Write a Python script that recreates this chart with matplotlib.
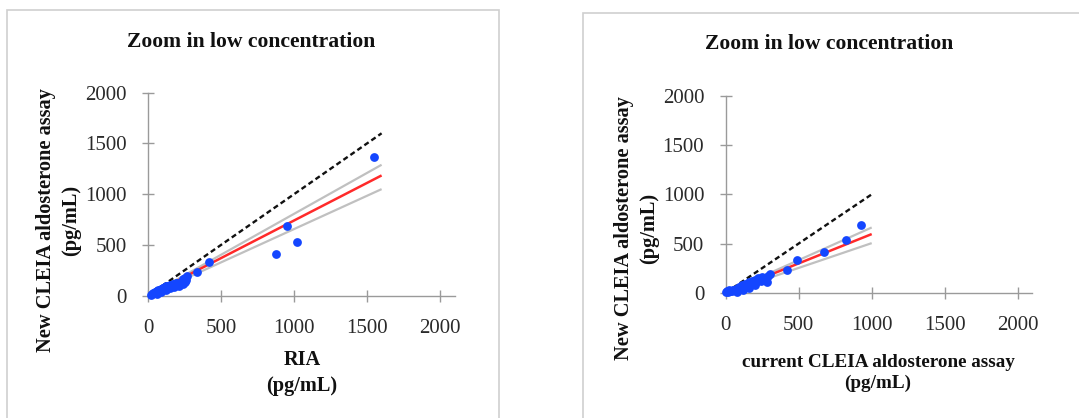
import matplotlib
matplotlib.use("Agg")
import matplotlib.pyplot as plt
from matplotlib.patches import Rectangle

plt.rcParams['font.family'] = ['Liberation Serif', 'DejaVu Serif']

# ---- data: left panel (RIA vs new CLEIA) ----
left_x = [1545, 950, 1020, 880, 420, 335,
          20, 30, 35, 45, 50, 55, 60, 65, 70, 75, 80, 85, 90, 95, 100, 105,
          110, 115, 120, 125, 130, 140, 150, 160, 170, 180, 190, 200, 215,
          230, 240, 250, 255, 265, 260, 60, 90, 120, 150, 180, 210, 240]
left_y = [1365, 690, 530, 410, 330, 230,
          10, 18, 25, 30, 38, 35, 45, 42, 55, 50, 60, 55, 70, 65, 75, 80,
          72, 90, 85, 95, 100, 95, 110, 105, 120, 115, 125, 130, 120,
          140, 160, 175, 135, 190, 150, 20, 35, 55, 75, 90, 100, 115]
left_line_x = [0, 1600]
left_fit_y = [0, 1185]
left_upper_y = [0, 1290]
left_lower_y = [0, 1050]
left_ident_y = [0, 1600]

# ---- data: right panel (current CLEIA vs new CLEIA) ----
right_x = [925, 825, 675, 490, 420, 300,
           5, 10, 15, 20, 30, 40, 50, 60, 70, 80, 90, 100, 110, 120, 130, 140,
           150, 160, 170, 180, 190, 200, 210, 220, 230, 240, 250, 260, 270,
           280, 290, 80, 120, 160, 200]
right_y = [690, 535, 415, 335, 230, 195,
           10, 20, 5, 25, 15, 20, 30, 25, 40, 35, 55, 45, 80, 60, 90, 70,
           85, 110, 95, 120, 100, 130, 110, 150, 140, 120, 160, 130, 150,
           110, 170, 10, 30, 50, 75]
right_line_x = [0, 1000]
right_fit_y = [0, 596]
right_upper_y = [0, 663]
right_lower_y = [0, 504]
right_ident_y = [0, 1000]

ticks = [0, 500, 1000, 1500, 2000]
title = "Zoom in low concentration"

W, H = 1079, 418
fig = plt.figure(figsize=(W / 100, H / 100), dpi=100)

def fx(px):
    return px / W

def fy(py):
    return 1 - py / H

# panel frames
fig.add_artist(Rectangle((fx(7), fy(430)), fx(492), fy(10) - fy(430),
                         transform=fig.transFigure, fill=False,
                         edgecolor='#cfcfcf', linewidth=1.2))
fig.add_artist(Rectangle((fx(583), fy(430)), fx(520), fy(13) - fy(430),
                         transform=fig.transFigure, fill=False,
                         edgecolor='#cfcfcf', linewidth=1.2))

def panel(rect, xs, ys, lx, fit, up, lo, ident):
    ax = fig.add_axes(rect)
    ax.plot(lx, up, color='#c0c0c0', lw=1.6, zorder=2, solid_capstyle='butt')
    ax.plot(lx, lo, color='#c0c0c0', lw=1.6, zorder=2, solid_capstyle='butt')
    ax.plot(lx, fit, color='#ff2a2a', lw=1.8, zorder=3, solid_capstyle='butt')
    ax.plot(lx, ident, color='#111111', lw=1.7, ls=(0, (2.2, 1.4)), zorder=3)
    ax.scatter(xs, ys, s=40, color='#1446ff', zorder=4, linewidths=0,
               clip_on=False)
    ax.set_xlim(0, 2100)
    ax.set_ylim(0, 2000)
    ax.set_xticks(ticks)
    ax.set_yticks(ticks)
    for s in ['top', 'right']:
        ax.spines[s].set_visible(False)
    for s in ['left', 'bottom']:
        ax.spines[s].set_color('#9a9a9a')
        ax.spines[s].set_linewidth(1.0)
    ax.tick_params(direction='inout', length=9, width=1.0, color='#9a9a9a',
                   labelsize=15, labelcolor='#2a2a2a')
    ax.tick_params(axis='y', pad=11)
    ax.tick_params(axis='x', pad=12)
    ax.patch.set_alpha(0)
    return ax

panel([fx(148), fy(295.7), fx(306.6), fy(92.7) - fy(295.7)],
      left_x, left_y, left_line_x, left_fit_y, left_upper_y, left_lower_y,
      left_ident_y)
panel([fx(725.7), fy(292.7), fx(306.6), fy(96) - fy(292.7)],
      right_x, right_y, right_line_x, right_fit_y, right_upper_y,
      right_lower_y, right_ident_y)

tkw = dict(fontsize=15.6, fontweight='bold', color='#111111',
           ha='center', va='center')
fig.text(fx(251), fy(42), title, **tkw)
fig.text(fx(829), fy(44), title, **tkw)

lkw = dict(fontsize=14.7, fontweight='bold', color='#111111',
           ha='center', va='center', linespacing=1.35)
fig.text(fx(59), fy(220), "New CLEIA aldosterone assay\n(pg/mL)",
         rotation=90, **lkw)
fig.text(fx(637), fy(228), "New CLEIA aldosterone assay\n(pg/mL)",
         rotation=90, **lkw)
fig.text(fx(302), fy(373), "RIA\n(pg/mL)", **lkw)
lkw2 = dict(lkw, fontsize=13.8)
fig.text(fx(878), fy(373), "current CLEIA aldosterone assay\n(pg/mL)", **lkw2)

fig.savefig("out.png", dpi=100)
